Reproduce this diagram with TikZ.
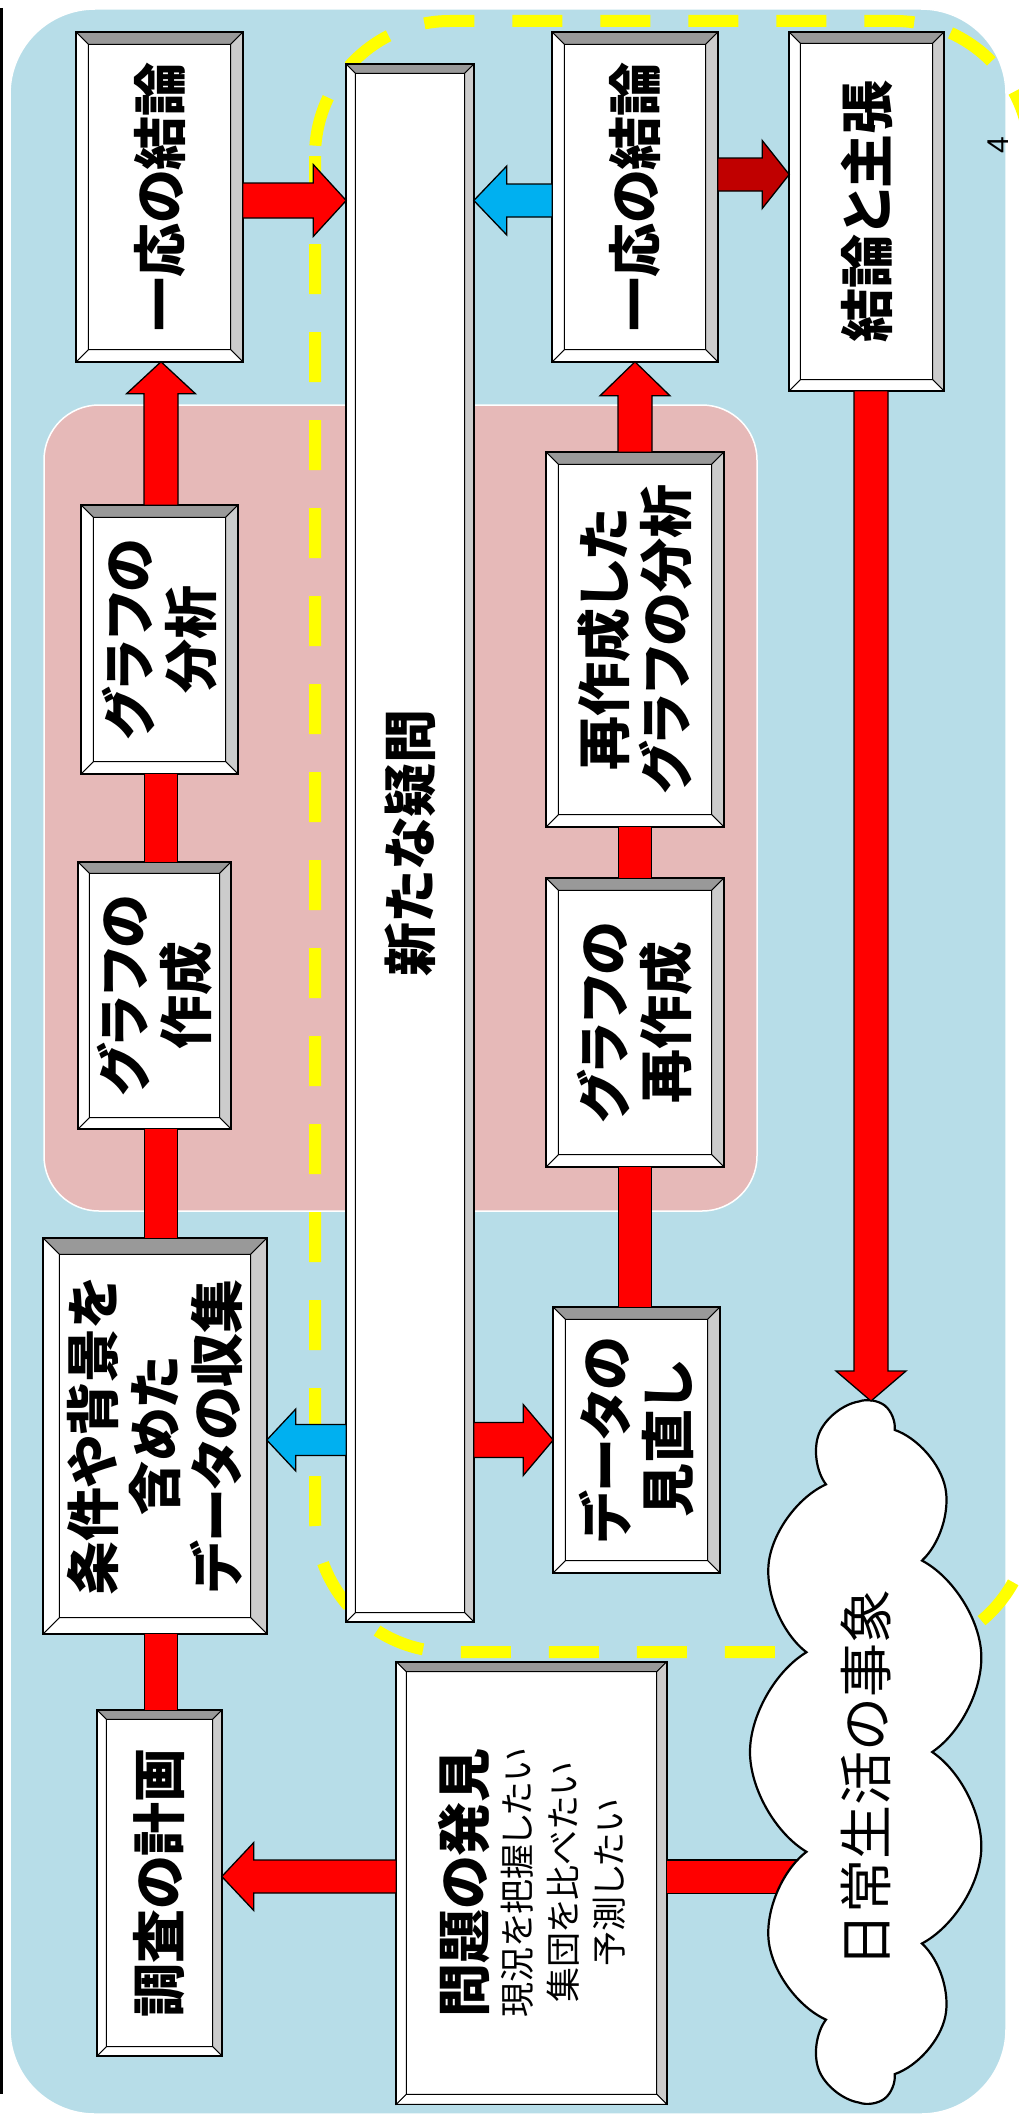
\documentclass[tikz,border=0pt]{standalone}
\usepackage{fontspec}
\setmainfont{Noto Sans CJK JP}[RawFeature=+palt]
\newfontfamily\cloudfont{Noto Sans CJK JP}
\newfontfamily\latinfont{Liberation Sans}
\usetikzlibrary{calc,shapes.symbols}
\definecolor{bgblue}{HTML}{B7DDE8}
\definecolor{pinkbg}{HTML}{E6B9B8}
\definecolor{arrred}{HTML}{FF0000}
\definecolor{darkred}{HTML}{C00000}
\definecolor{arrblue}{HTML}{00B0F0}
\definecolor{bevdark}{HTML}{999999}
\definecolor{bevlight}{HTML}{CCCCCC}
\definecolor{dashyellow}{HTML}{FFFF00}
\newcommand\boxfont{\bfseries\fontsize{54}{62}\selectfont}
\newcommand\bevel[2]{%
  \coordinate (bvA) at (#1.north west);
  \coordinate (bvB) at (#1.north east);
  \coordinate (bvC) at (#1.south east);
  \coordinate (bvD) at (#1.south west);
  \coordinate (bva) at ($(bvA)+(#2,#2)$);
  \coordinate (bvb) at ($(bvB)+(-#2,#2)$);
  \coordinate (bvc) at ($(bvC)+(-#2,-#2)$);
  \coordinate (bvd) at ($(bvD)+(#2,-#2)$);
  \filldraw[bevline, fill=bevdark] (bvA) -- (bvB) -- (bvb) -- (bva) -- cycle;
  \filldraw[bevline, fill=bevlight] (bvB) -- (bvC) -- (bvc) -- (bvb) -- cycle;
  \filldraw[bevline, fill=white] (bvC) -- (bvD) -- (bvd) -- (bvc) -- cycle;
  \filldraw[bevline, fill=white] (bvD) -- (bvA) -- (bva) -- (bvd) -- cycle;
  \draw[line width=1.6pt] (bvA) rectangle (bvC);
  \draw[line width=1.2pt] (bva) rectangle (bvc);
}
% #1 style, #2 from, #3 to, #4 shaft half width, #5 head half width, #6 head length
\newcommand\blockarr[6]{%
  \coordinate (baS) at (#2);
  \coordinate (baE) at (#3);
  \coordinate (baH) at ($(baE)!#6!(baS)$);
  \filldraw[#1] ($(baS)!#4!90:(baE)$) -- ($(baH)!#4!90:(baE)$) -- ($(baH)!#5!90:(baE)$) -- (baE)
     -- ($(baH)!#5!-90:(baE)$) -- ($(baH)!#4!-90:(baE)$) -- ($(baS)!#4!-90:(baE)$) -- cycle;
}
\tikzset{
  box/.style={draw=black, line width=1.6pt, fill=white, inner sep=0pt, rectangle},
  boxtxt/.style={rotate=90, align=center, font=\boxfont, inner sep=0pt},
  bevline/.style={draw=black, line width=0.8pt},
  redarr/.style={fill=arrred, draw=black, line width=1.3pt, line join=miter},
  darkarr/.style={fill=darkred, draw=black, line width=1.3pt, line join=miter},
  bluearr/.style={fill=arrblue, draw=black, line width=1.3pt, line join=miter},
  bar/.style={draw=black, line width=1.3pt, double=arrred, double distance=32pt},
}
\begin{document}
\begin{tikzpicture}[x=1pt,y=-1pt]
\useasboundingbox (0,0) rectangle (1018,2122);
\fill[white] (0,0) rectangle (1018,2122);
\filldraw[fill=bgblue, draw=white, line width=1.5pt, rounded corners=85pt] (10,9) rectangle (1006,2114);
\draw[black, line width=2.5pt] (1.5,8) -- (1.5,2094);
\filldraw[fill=pinkbg, draw=white, line width=1.5pt, rounded corners=55pt] (44,405) rectangle (757,1211);
\draw[dashyellow, line width=12pt, dash pattern=on 50pt off 38pt, rounded corners=135pt] (315,21) rectangle (1030,1652);

% column / row reference coordinates
\coordinate (colL) at (161,0);
\coordinate (colR) at (635,0);
\coordinate (colKS) at (871,0);
\coordinate (rowTop) at (0,200.5);
\coordinate (rowKS) at (0,174.5);
\coordinate (rowMid) at (0,1440);
\coordinate (rowPB) at (0,1876.5);

% boxes
\node[box, minimum width=165pt, minimum height=328pt] (L1) at (159.5,197) {};
\bevel{L1}{12}
\node[boxtxt] (L1t) at (L1) {一応の結論};

\node[box, minimum width=155pt, minimum height=267pt] (GA) at (159.5,639.5) {};
\bevel{GA}{12}
\node[boxtxt] (GAt) at (GA) {グラフの\\分析};

\node[box, minimum width=151pt, minimum height=265pt] (GS) at (154.5,995.5) {};
\bevel{GS}{11}
\node[boxtxt] (GSt) at (GS) {グラフの\\作成};

\node[box, minimum width=222pt, minimum height=394pt] (DC) at (155,1436) {};
\bevel{DC}{16}
\node[boxtxt] (DCt) at (DC) {条件や背景を\\含めた\\データの収集};

\node[box, minimum width=123pt, minimum height=344pt] (PL) at (159.5,1883) {};
\bevel{PL}{9}
\node[boxtxt] (PLt) at (PL) {調査の計画};

\node[box, minimum width=126pt, minimum height=1556pt] (Q) at (410,843) {};
\bevel{Q}{9}
\node[boxtxt] (Qt) at (Q) {新たな疑問};

\node[box, minimum width=164pt, minimum height=328pt] (R1) at (635,197) {};
\bevel{R1}{12}
\node[boxtxt] (R1t) at (R1) {一応の結論};

\node[box, minimum width=153pt, minimum height=357pt] (KS) at (866.5,211.5) {};
\bevel{KS}{11}
\node[boxtxt] (KSt) at (KS) {結論と主張};

\node[box, minimum width=176pt, minimum height=373pt] (RA) at (635,639.5) {};
\bevel{RA}{12}
\node[boxtxt] (RAt) at (RA) {再作成した\\グラフの分析};

\node[box, minimum width=176pt, minimum height=287pt] (RS) at (635,1022.5) {};
\bevel{RS}{12}
\node[boxtxt] (RSt) at (RS) {グラフの\\再作成};

\node[box, minimum width=165pt, minimum height=264pt] (DR) at (636.5,1440) {};
\bevel{DR}{12}
\node[boxtxt] (DRt) at (DR) {データの\\見直し};

\node[box, minimum width=269pt, minimum height=441pt] (PB) at (531.5,1883) {};
\bevel{PB}{10}
\node[rotate=90, align=center, inner sep=0pt, font=\fontsize{35}{46}\selectfont] (PBt) at (PB)
  {{\bfseries\fontsize{54}{46}\selectfont 問題の発見}\\現況を把握したい\\集団を比べたい\\予測したい};

% plain bars between boxes
\draw[bar] (colL |- GS.north) -- (colL |- GA.south);
\draw[bar] (colL |- DC.north) -- (colL |- GS.south);
\draw[bar] (colL |- PL.north) -- (colL |- DC.south);
\draw[bar] (colR |- RS.north) -- (colR |- RA.south);
\draw[bar] (colR |- DR.north) -- (colR |- RS.south);

% block arrows
\blockarr{redarr}{L1.east |- rowTop}{Q.west |- rowTop}{17.5pt}{36pt}{33pt}
\blockarr{bluearr}{R1.west |- rowTop}{Q.east |- rowTop}{16.5pt}{34.5pt}{33pt}
\blockarr{darkarr}{R1.east |- rowKS}{KS.west |- rowKS}{16.5pt}{34pt}{27pt}
\blockarr{redarr}{colL |- GA.north}{colL |- L1.south}{17pt}{34.5pt}{32pt}
\blockarr{redarr}{colR |- RA.north}{colR |- R1.south}{17pt}{35pt}{34pt}
\blockarr{bluearr}{Q.west |- rowMid}{DC.east |- rowMid}{15.5pt}{31pt}{29pt}
\blockarr{redarr}{Q.east |- rowMid}{DR.west |- rowMid}{17.5pt}{35.5pt}{30pt}
\blockarr{redarr}{PB.west |- rowPB}{PL.east |- rowPB}{16.5pt}{34pt}{32pt}

% cloud
\coordinate (cloudL) at (820,1876.5);
\draw[bar] (PB.east |- rowPB) -- (cloudL);
\node[cloud, cloud puffs=11, cloud puff arc=118, aspect=3, draw=black, fill=white, line width=2.2pt,
      rotate=90, minimum width=700pt, minimum height=236pt, inner sep=0pt] (cloud) at (868,1752) {};
\node[rotate=90, inner sep=0pt, font=\cloudfont\fontsize{54}{60}\selectfont] (cloudt) at (866,1778) {日常生活の事象};
\coordinate (cloudTop) at (871,1401);
\blockarr{redarr}{colKS |- KS.south}{cloudTop}{17pt}{35pt}{30pt}

% page number
\node[rotate=90, inner sep=0pt, font=\latinfont\fontsize{30}{32}\selectfont] (pgnum) at (998,145) {4};
\end{tikzpicture}
\end{document}
